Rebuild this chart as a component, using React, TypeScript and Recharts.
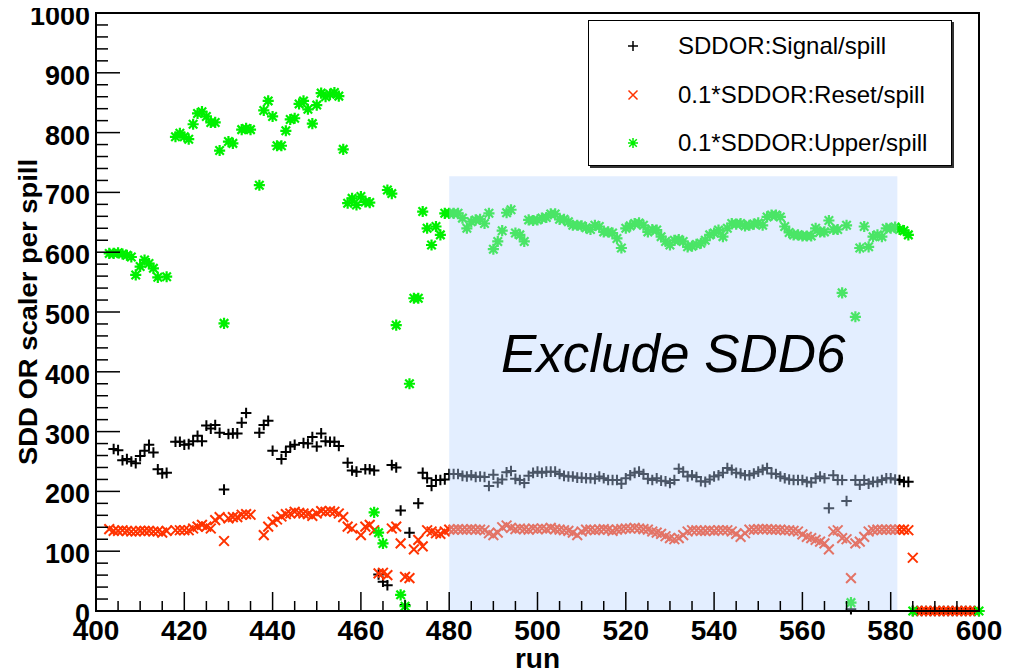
import React from 'react';
import { ScatterChart, Scatter, XAxis, YAxis, ReferenceArea } from 'recharts';

const FONT = '"Liberation Sans", Arial, Helvetica, sans-serif';

const xMajor = [400, 420, 440, 460, 480, 500, 520, 540, 560, 580, 600];
const yMajor = [0, 100, 200, 300, 400, 500, 600, 700, 800, 900, 1000];

const seriesNames = ['SDDOR:Signal/spill', '0.1*SDDOR:Reset/spill', '0.1*SDDOR:Upper/spill'];
const seriesColors = ['#000000', '#ff3300', '#00f000'];
const xTitle = 'run';
const yTitle = 'SDD OR scaler per spill';

// [run, value]
const signalData: [number, number][] = [
  [404, 271], [405, 269], [406, 252], [407, 254], [408, 250], [409, 247], [410, 259], [411, 268], [412, 278], [413, 265],
  [414, 237], [415, 230], [416, 231], [418, 283], [419, 283], [420, 278], [421, 279], [422, 284], [423, 293], [424, 284],
  [425, 310], [426, 305], [427, 311], [428, 298], [429, 203], [430, 296], [431, 297], [432, 297], [433, 315], [434, 331],
  [437, 298], [438, 311], [439, 318], [440, 268], [442, 254], [443, 266], [444, 275], [445, 278], [447, 281], [448, 280],
  [449, 291], [450, 275], [451, 297], [452, 284], [453, 283], [454, 283], [455, 276], [457, 248], [458, 235], [459, 233],
  [461, 237], [462, 237], [463, 235], [464, 61], [465, 49], [466, 43], [467, 244], [468, 240], [469, 168], [470, 10],
  [471, 131], [473, 180], [474, 231], [475, 222], [476, 209], [477, 219], [478, 219], [479, 220],
  [480, 229], [481, 229], [482, 229], [483, 226], [484, 225], [485, 227], [486, 224], [487, 225], [488, 224], [489, 209],
  [490, 228], [491, 215], [492, 220], [493, 232], [494, 234], [495, 221], [496, 219], [497, 214], [498, 226], [499, 231],
  [500, 233], [501, 231], [502, 233], [503, 233], [504, 233], [505, 229], [506, 226], [507, 225], [508, 225], [509, 223],
  [510, 223], [511, 222], [512, 222], [513, 221], [514, 225], [515, 222], [516, 219], [517, 219], [518, 219], [519, 213],
  [520, 222], [521, 227], [522, 231], [523, 233], [524, 229], [525, 221], [526, 219], [527, 222], [528, 218], [529, 217],
  [530, 214], [531, 219], [532, 238], [533, 233], [534, 225], [535, 227], [536, 224], [537, 217], [538, 216], [539, 220],
  [540, 225], [541, 227], [542, 231], [543, 239], [544, 236], [545, 231], [546, 230], [547, 227], [548, 227], [549, 230],
  [550, 233], [551, 236], [552, 239], [553, 230], [554, 229], [555, 225], [556, 222], [557, 220], [558, 219], [559, 219],
  [560, 219], [561, 216], [562, 215], [563, 222], [564, 225], [565, 222], [566, 172], [567, 227], [568, 219], [569, 219],
  [570, 184], [571, 3], [572, 219], [573, 211], [574, 219], [575, 213], [576, 216], [577, 216], [578, 219], [579, 222],
  [580, 222], [581, 220], [582, 219], [583, 216], [584, 216],
  [585, 0], [586, 0], [587, 0], [588, 0], [589, 0], [590, 0], [591, 0], [592, 0], [593, 0], [594, 0], [595, 0],
  [596, 0], [597, 0], [598, 0], [599, 0], [600, 0],
];

const resetData: [number, number][] = [
  [403, 137], [404, 134], [405, 134], [406, 135], [407, 134], [408, 133], [409, 133], [410, 134], [411, 134], [412, 134],
  [413, 133], [414, 133], [415, 131], [416, 134], [418, 135], [419, 135], [420, 135], [421, 135], [422, 138], [423, 141],
  [424, 144], [425, 141], [426, 138], [427, 152], [428, 157], [429, 117], [430, 155], [431, 157], [432, 157], [433, 161],
  [434, 162], [435, 161], [438, 127], [439, 141], [440, 149], [441, 153], [442, 158], [443, 162], [444, 163], [445, 166],
  [446, 164], [447, 163], [448, 162], [449, 159], [450, 163], [451, 167], [452, 166], [453, 167], [454, 166], [455, 163],
  [456, 157], [457, 141], [458, 138], [460, 127], [461, 141], [462, 144], [463, 135], [464, 63], [465, 64], [466, 60],
  [467, 138], [468, 141], [469, 113], [470, 57], [471, 55], [472, 103], [473, 119], [474, 108], [475, 135], [476, 133],
  [477, 130], [478, 129], [479, 133],
  [480, 136], [481, 136], [482, 137], [483, 136], [484, 136], [485, 137], [486, 136], [487, 136], [488, 135], [489, 130],
  [490, 127], [491, 131], [492, 140], [493, 143], [494, 139], [495, 137], [496, 138], [497, 137], [498, 136], [499, 138],
  [500, 137], [501, 138], [502, 137], [503, 139], [504, 137], [505, 136], [506, 135], [507, 134], [508, 131], [509, 127],
  [510, 133], [511, 136], [512, 136], [513, 135], [514, 136], [515, 137], [516, 136], [517, 134], [518, 136], [519, 137],
  [520, 138], [521, 138], [522, 139], [523, 138], [524, 137], [525, 136], [526, 133], [527, 131], [528, 129], [529, 125],
  [530, 122], [531, 120], [532, 122], [533, 127], [534, 133], [535, 135], [536, 135], [537, 134], [538, 134], [539, 135],
  [540, 134], [541, 135], [542, 135], [543, 135], [544, 133], [545, 129], [546, 124], [547, 130], [548, 136], [549, 136],
  [550, 137], [551, 137], [552, 137], [553, 136], [554, 136], [555, 136], [556, 135], [557, 135], [558, 134], [559, 133],
  [560, 128], [561, 124], [562, 122], [563, 119], [564, 116], [565, 113], [566, 103], [567, 133], [568, 135], [569, 122],
  [570, 120], [571, 55], [572, 113], [573, 116], [574, 124], [575, 133], [576, 135], [577, 136], [578, 136], [579, 136],
  [580, 136], [581, 136], [582, 136], [583, 136], [584, 135], [585, 89],
  [586, 0], [587, 0], [588, 0], [589, 0], [590, 0], [591, 0], [592, 0], [593, 0], [594, 0], [595, 0], [596, 0],
  [597, 0], [598, 0], [599, 0],
];

const upperData: [number, number][] = [
  [403, 598], [404, 598], [405, 599], [406, 597], [407, 595], [408, 592], [409, 562], [410, 576], [411, 587], [412, 581],
  [413, 573], [414, 558], [416, 559], [418, 793], [419, 799], [420, 793], [421, 789], [422, 814], [423, 832], [424, 835],
  [425, 827], [426, 817], [427, 817], [428, 770], [429, 481], [430, 785], [431, 782], [433, 805], [434, 807], [435, 805],
  [437, 712], [438, 837], [439, 853], [440, 827], [441, 778], [442, 778], [443, 803], [444, 822], [445, 824], [446, 848],
  [447, 853], [448, 839], [449, 815], [450, 846], [451, 866], [452, 860], [453, 864], [454, 867], [455, 861], [456, 772],
  [457, 682], [458, 690], [459, 679], [460, 693], [461, 684], [462, 683], [463, 165], [464, 131], [465, 113], [466, 704],
  [467, 698], [468, 478], [469, 27], [470, 8], [471, 380], [472, 523], [473, 523], [474, 668], [475, 640], [476, 612],
  [477, 643], [478, 629], [479, 665],
  [480, 665], [481, 665], [482, 665], [483, 657], [484, 640], [485, 651], [486, 654], [487, 655], [488, 648], [489, 665],
  [490, 605], [491, 618], [492, 636], [493, 666], [494, 671], [495, 632], [496, 629], [497, 618], [498, 654], [499, 653],
  [500, 654], [501, 657], [502, 658], [503, 664], [504, 664], [505, 655], [506, 655], [507, 651], [508, 645], [509, 645],
  [510, 644], [511, 641], [512, 638], [513, 645], [514, 643], [515, 634], [516, 634], [517, 632], [518, 623], [519, 607],
  [520, 640], [521, 644], [522, 648], [523, 649], [524, 645], [525, 634], [526, 638], [527, 637], [528, 626], [529, 618],
  [530, 612], [531, 620], [532, 621], [533, 618], [534, 609], [535, 610], [536, 613], [537, 615], [538, 620], [539, 629],
  [540, 632], [541, 637], [542, 626], [543, 640], [544, 648], [545, 647], [546, 648], [547, 644], [548, 645], [549, 647],
  [550, 649], [551, 645], [552, 659], [553, 662], [554, 662], [555, 659], [556, 643], [557, 633], [558, 629], [559, 629],
  [560, 627], [561, 627], [562, 627], [563, 640], [564, 634], [565, 634], [566, 653], [567, 638], [568, 638], [569, 532],
  [570, 645], [571, 14], [572, 492], [573, 607], [574, 643], [575, 609], [576, 626], [577, 629], [578, 626], [579, 640],
  [580, 640], [581, 642], [582, 638], [583, 636], [584, 629], [585, 0], [600, 0],
];

const shadeRange = { x1: 480, x2: 581.5, y1: 0, y2: 727 };
const shadeText = 'Exclude SDD6';

const toPoints = (d: [number, number][]) => d.map(([run, value]) => ({ run, value }));

const xTicks = xMajor.flatMap((v, i) => (i < xMajor.length - 1 ? [v, v + 5, v + 10, v + 15] : [v]));
const yTicks = yMajor.flatMap((v, i) => (i < yMajor.length - 1 ? [v, v + 20, v + 40, v + 60, v + 80] : [v]));

const XTick = (props: any) => {
  const { x, y, payload } = props;
  const v = payload.value;
  const major = xMajor.includes(v);
  return (
    <g>
      <line x1={x} x2={x} y1={y} y2={y - (major ? 19 : 10)} stroke="#000" strokeWidth={1.5} />
      {major && (
        <text x={x} y={y + 29} textAnchor="middle" fontFamily={FONT} fontWeight="bold" fontSize={28} fill="#000">
          {v}
        </text>
      )}
    </g>
  );
};

const YTick = (props: any) => {
  const { x, y, payload } = props;
  const v = payload.value;
  const major = yMajor.includes(v);
  return (
    <g>
      <line x1={x} x2={x + (major ? 24 : 12)} y1={y} y2={y} stroke="#000" strokeWidth={1.5} />
      {major && (
        <text x={x - 6} y={y} dy={12} textAnchor="end" fontFamily={FONT} fontWeight="bold" fontSize={27} fill="#000">
          {v}
        </text>
      )}
    </g>
  );
};

const YTitle = (props: any) => {
  const vb = props.viewBox || {};
  const cx = vb.x + 21;
  const cy = vb.y + vb.height / 2;
  return (
    <text
      x={cx}
      y={cy}
      transform={`rotate(-90, ${cx}, ${cy})`}
      textAnchor="middle"
      fontFamily={FONT}
      fontWeight="bold"
      fontSize={25}
      textLength={306}
      lengthAdjust="spacingAndGlyphs"
      fill="#000"
    >
      {yTitle}
    </text>
  );
};

const S = 5.3;
const plusPath = (cx: number, cy: number, s: number) => `M${cx - s},${cy}H${cx + s}M${cx},${cy - s}V${cy + s}`;
const crossPath = (cx: number, cy: number, s: number) =>
  `M${cx - s},${cy - s}L${cx + s},${cy + s}M${cx - s},${cy + s}L${cx + s},${cy - s}`;

const PlusShape = (color: string) => (p: any) => (
  <path d={plusPath(p.cx, p.cy, S)} stroke={color} strokeWidth={2} fill="none" />
);
const CrossShape = (color: string) => (p: any) => (
  <path d={crossPath(p.cx, p.cy, S * 0.92)} stroke={color} strokeWidth={2} fill="none" />
);
const StarShape = (color: string) => (p: any) => (
  <path d={plusPath(p.cx, p.cy, S * 1.05) + crossPath(p.cx, p.cy, S * 0.8)} stroke={color} strokeWidth={2.2} fill="none" />
);

const ShadeLabel = (props: any) => {
  const vb = props.viewBox || {};
  return (
    <text
      x={vb.x + vb.width / 2}
      y={vb.y + 196}
      textAnchor="middle"
      fontFamily={FONT}
      fontStyle="italic"
      fontSize={53}
      fill="#000"
    >
      {shadeText}
    </text>
  );
};

const legendMarkers = [
  (c: string) => <path d={plusPath(10, 10, 5)} stroke={c} strokeWidth={1.5} fill="none" />,
  (c: string) => <path d={crossPath(10, 10, 4.5)} stroke={c} strokeWidth={1.5} fill="none" />,
  (c: string) => <path d={plusPath(10, 10, 5) + crossPath(10, 10, 3.8)} stroke={c} strokeWidth={1.5} fill="none" />,
];
const legendRowCenters = [25, 74, 122];

export default function App() {
  return (
    <div style={{ position: 'relative', width: 1010, height: 664 }}>
      <ScatterChart width={1010} height={664} margin={{ top: 5, right: 39, bottom: 0, left: 8 }}>
        <XAxis
          type="number"
          dataKey="run"
          domain={[400, 600]}
          ticks={xTicks}
          interval={0}
          tickSize={0}
          tickMargin={0}
          tick={<XTick />}
          height={61}
          axisLine={{ stroke: '#000', strokeWidth: 2 }}
          allowDecimals
          label={{
            value: xTitle,
            position: 'insideBottom',
            offset: 4,
            style: { fontFamily: FONT, fontWeight: 'bold', fontSize: 28, fill: '#000' },
          }}
        />
        <YAxis
          type="number"
          dataKey="value"
          domain={[0, 1000]}
          ticks={yTicks}
          interval={0}
          tickSize={0}
          tickMargin={0}
          tick={<YTick />}
          width={80}
          axisLine={{ stroke: '#000', strokeWidth: 2 }}
          label={<YTitle />}
        />
        <Scatter name={seriesNames[0]} data={toPoints(signalData)} shape={PlusShape(seriesColors[0])} isAnimationActive={false} />
        <Scatter name={seriesNames[1]} data={toPoints(resetData)} shape={CrossShape(seriesColors[1])} isAnimationActive={false} />
        <Scatter name={seriesNames[2]} data={toPoints(upperData)} shape={StarShape(seriesColors[2])} isAnimationActive={false} />
        <ReferenceArea
          x1={shadeRange.x1}
          x2={shadeRange.x2}
          y1={shadeRange.y1}
          y2={shadeRange.y2}
          fill="rgb(185,213,255)"
          fillOpacity={0.4}
          stroke="none"
          label={<ShadeLabel />}
          {...({ zIndex: 1500 } as any)}
        />
        <ReferenceArea x1={400} x2={600} y1={0} y2={1000} fill="none" stroke="#000" strokeWidth={2} {...({ zIndex: 1600 } as any)} />
      </ScatterChart>
      <div
        style={{
          position: 'absolute',
          left: 580,
          top: 12,
          width: 364,
          height: 146,
          border: '1.5px solid #000',
          boxShadow: '2px 2px 0 #333',
          background: '#fff',
          boxSizing: 'border-box',
        }}
      >
        {seriesNames.map((n, i) => (
          <div key={n} style={{ position: 'absolute', left: 0, top: legendRowCenters[i] - 16, height: 32, width: '100%' }}>
            <svg width={20} height={20} style={{ position: 'absolute', left: 34, top: 6 }}>
              {legendMarkers[i](seriesColors[i])}
            </svg>
            <span
              style={{
                position: 'absolute',
                left: 89,
                top: 0,
                lineHeight: '32px',
                fontFamily: FONT,
                fontSize: 24,
                color: '#000',
                whiteSpace: 'nowrap',
              }}
            >
              {n}
            </span>
          </div>
        ))}
      </div>
    </div>
  );
}
